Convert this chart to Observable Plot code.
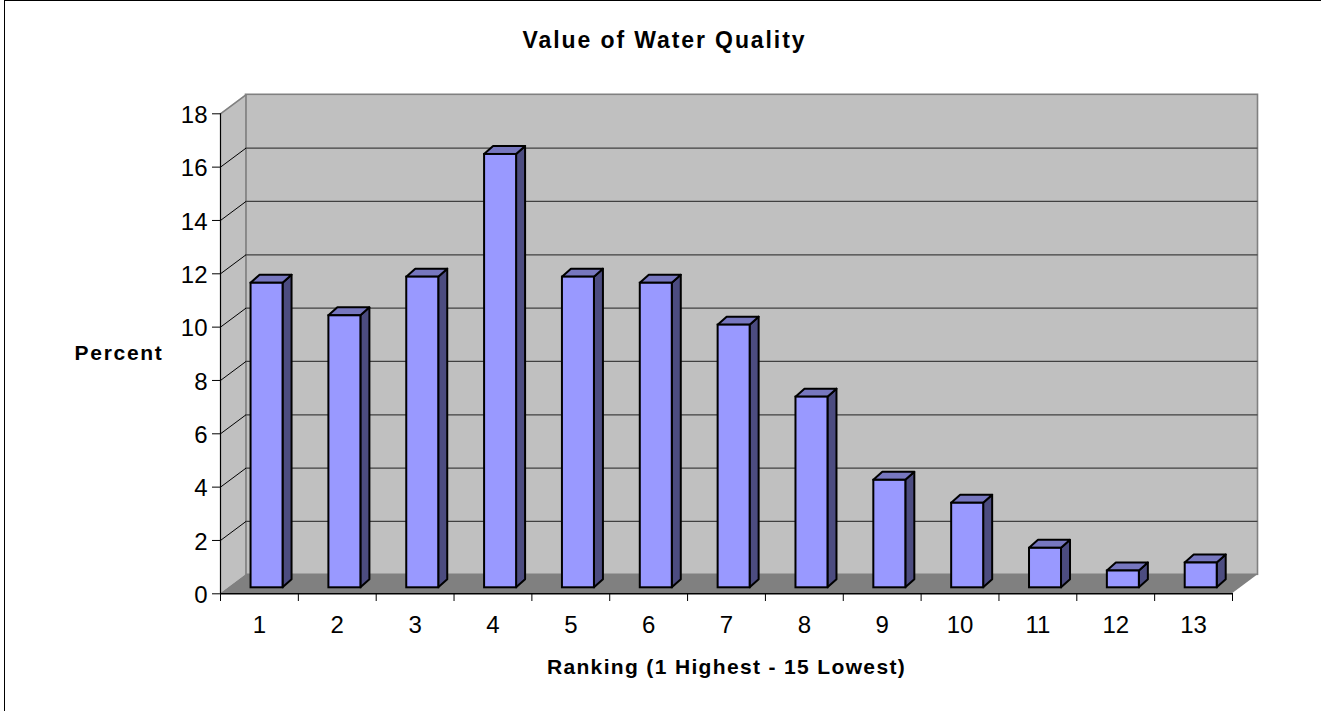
<!DOCTYPE html>
<html><head><meta charset="utf-8">
<script src="https://cdn.jsdelivr.net/npm/d3@7"></script>
<script src="https://cdn.jsdelivr.net/npm/@observablehq/plot@0.6"></script>
<style>
html,body{margin:0;padding:0;background:#fff;overflow:hidden}
#frame{position:absolute;left:4px;top:0;width:1316px;height:710px;border:1px solid #000;border-right:none;box-sizing:content-box}
#chart{position:absolute;left:0;top:0;width:1321px;height:711px}
#title{position:absolute;left:4px;width:1321px;top:27px;text-align:center;font:bold 23px "Liberation Sans",Arial,sans-serif;letter-spacing:1.9px;color:#000}
.axis-title text{letter-spacing:1.35px}
.axis-title-y text{letter-spacing:1.7px}
</style></head>
<body>
<div id="frame"></div>
<div id="title">Value of Water Quality</div>
<div id="chart"></div>
<script>
const categories = ["1","2","3","4","5","6","7","8","9","10","11","12","13"];
const percent = [11.42,10.2,11.65,16.25,11.65,11.42,9.85,7.15,4.03,3.17,1.48,0.63,0.93];
const yTicks = [0,2,4,6,8,10,12,14,16,18];
const yMax = 18;
const titleX = "Ranking (1 Highest - 15 Lowest)";
const titleY = "Percent";

// oblique depth of the chart box and the bars, in data units
const depthX = 0.3276, depthY = 0.7125;
const barDepthX = 0.1156, barDepthY = 0.3;
const barOffX = 0.098, barOffY = 0.225;
const barHalf = 0.2055;
const n = categories.length;

const bars = categories.map((c, i) => {
  const l = i + 0.5 - barHalf + barOffX, r = i + 0.5 + barHalf + barOffX;
  return {c, v: percent[i], l, r, b: barOffY, t: barOffY + percent[i]};
});
const sidePts = bars.flatMap((d, i) => [
  {i, x: d.r, y1: d.b, y2: d.t},
  {i, x: d.r + barDepthX, y1: d.b + barDepthY, y2: d.t + barDepthY}
]);
const topPts = bars.flatMap((d, i) => [
  {i, y: d.t, x1: d.l, x2: d.r},
  {i, y: d.t + barDepthY, x1: d.l + barDepthX, x2: d.r + barDepthX}
]);
const wallPts = [
  {x: 0, y1: 0, y2: yMax},
  {x: depthX, y1: depthY, y2: yMax + depthY}
];
const floorPts = [
  {y: 0, x1: 0, x2: n},
  {y: depthY, x1: depthX, x2: n + depthX}
];
const inner = yTicks.slice(1, -1);
const catBounds = d3.range(n + 1);

const grey = "#808080";
const plot = Plot.plot({
  width: 1321, height: 711,
  marginLeft: 220, marginRight: 89, marginTop: 113, marginBottom: 118,
  style: {background: "transparent", fontFamily: "'Liberation Sans',Arial,sans-serif", overflow: "visible"},
  x: {domain: [0, n], range: [220, 1232]},
  y: {domain: [0, yMax], range: [593.3, 113.3]},
  marks: [
    // back wall, side wall, floor
    Plot.rect([{}], {x1: () => depthX, x2: () => n + depthX, y1: () => depthY, y2: () => yMax + depthY, fill: "#c0c0c0", stroke: grey, strokeWidth: 1.6}),
    Plot.areaY(wallPts, {x: "x", y1: "y1", y2: "y2", fill: "#c0c0c0"}),
    Plot.lineY(wallPts, {x: "x", y: "y2", stroke: grey, strokeWidth: 1.5}),
    Plot.ruleX([depthX], {y1: () => depthY, y2: () => yMax + depthY, stroke: grey, strokeWidth: 1.5}),
    Plot.areaX(floorPts, {y: "y", x1: "x1", x2: "x2", fill: "#808080"}),
    // gridlines
    Plot.ruleY(inner, {x1: () => depthX, x2: () => n + depthX, y: d => d + depthY, stroke: "#404040", strokeWidth: 1.2}),
    Plot.link(inner, {x1: () => 0, x2: () => depthX, y1: d => d, y2: d => d + depthY, stroke: "#000", strokeWidth: 1}),
    // bars
    Plot.areaY(sidePts, {x: "x", y1: "y1", y2: "y2", z: "i", fill: "#4c4c80", stroke: "#000", strokeWidth: 2, strokeLinejoin: "round"}),
    Plot.areaX(topPts, {y: "y", x1: "x1", x2: "x2", z: "i", fill: "#7777bf", stroke: "#000", strokeWidth: 2, strokeLinejoin: "round"}),
    Plot.rect(bars, {x1: "l", x2: "r", y1: "b", y2: "t", fill: "#9999ff", stroke: "#000", strokeWidth: 2}),
    // axes
    Plot.ruleX([0], {y1: () => 0, y2: () => yMax, stroke: "#000", strokeWidth: 1.2}),
    Plot.ruleY([0], {x1: () => 0, x2: () => n, stroke: "#000", strokeWidth: 1.4}),
    Plot.axisX(catBounds, {tickFormat: () => null, tickSize: 8, tickPadding: 0, label: null, stroke: "#000", anchor: "bottom"}),
    Plot.axisY(yTicks, {anchor: "left", tickSize: 8, tickFormat: () => null, label: null, stroke: "#000"}),
    Plot.text(yTicks, {y: d => d, frameAnchor: "left", textAnchor: "end", dx: -13, dy: 1.5, fontSize: 24, fill: "#000"}),
    Plot.text(categories, {x: (d, i) => i + 0.5, frameAnchor: "bottom", dy: 39, fontSize: 24, fill: "#000"}),
    Plot.text([titleY], {frameAnchor: "left", textAnchor: "end", dx: -57, fontSize: 21, fontWeight: "bold", className: "axis-title-y", fill: "#000"}),
    Plot.text([titleX], {frameAnchor: "bottom", dy: 80, fontSize: 21, fontWeight: "bold", className: "axis-title", fill: "#000"})
  ]
});
document.getElementById("chart").append(plot);
</script>
</body></html>
